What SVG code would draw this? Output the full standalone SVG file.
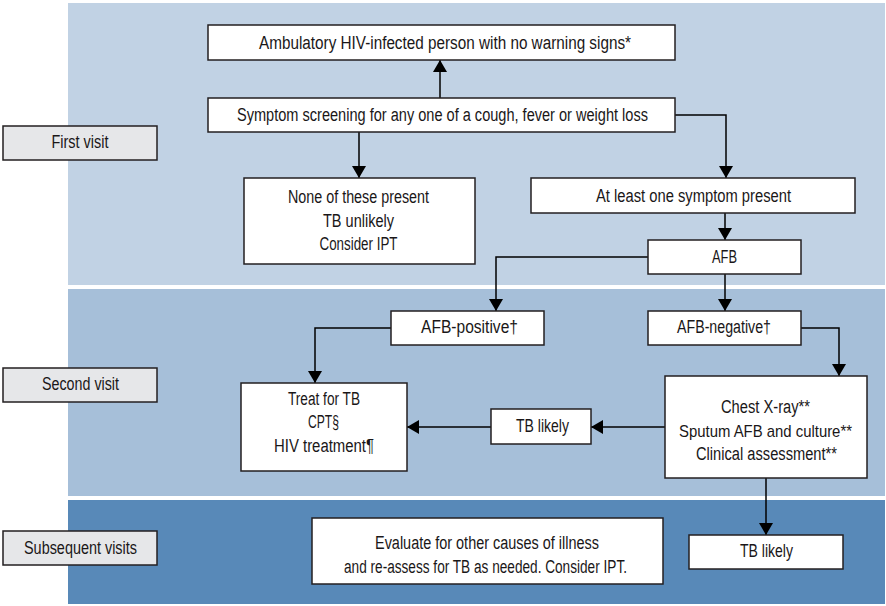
<svg xmlns="http://www.w3.org/2000/svg" width="886" height="606" viewBox="0 0 886 606">
<defs>
<style>
.node{fill:#ffffff;stroke:#231f20;stroke-width:1.5}
.lab{fill:#e6e7e9;stroke:#231f20;stroke-width:1.5}
text{font-family:"Liberation Sans Narrow","Liberation Sans",Arial,sans-serif;font-size:18px;fill:#1a1718;text-anchor:middle}
.conn{fill:none;stroke:#000000;stroke-width:1.5}
</style>
<marker id="arr" markerUnits="userSpaceOnUse" markerWidth="14" markerHeight="14" refX="12" refY="7" orient="auto">
<path d="M0,0 L12,7 L0,14 z" fill="#000000"/>
</marker>
</defs>
<rect width="886" height="606" fill="#ffffff"/>
<g id="bands">
<rect x="68" y="3" width="817" height="282" fill="#c1d2e4"/>
<rect x="68" y="289" width="817" height="207" fill="#a6bfd9"/>
<rect x="68" y="500" width="817" height="104" fill="#5889b8"/>
</g>
<g id="label-first"><rect class="lab" x="3" y="126" width="154" height="34"/><text x="80" y="148" textLength="57" lengthAdjust="spacingAndGlyphs">First visit</text></g>
<g id="label-second"><rect class="lab" x="3" y="368" width="154" height="34"/><text x="80.5" y="390" textLength="77" lengthAdjust="spacingAndGlyphs">Second visit</text></g>
<g id="label-subsequent"><rect class="lab" x="3" y="531" width="154" height="34"/><text x="80.5" y="554" textLength="113" lengthAdjust="spacingAndGlyphs">Subsequent visits</text></g>

<g id="connectors">
<path class="conn" d="M440,98 V60" marker-end="url(#arr)"/>
<path class="conn" d="M675,115 H726 V178" marker-end="url(#arr)"/>
<path class="conn" d="M359,132 V178" marker-end="url(#arr)"/>
<path class="conn" d="M725,213 V240" marker-end="url(#arr)"/>
<path class="conn" d="M648,257 H496 V311" marker-end="url(#arr)"/>
<path class="conn" d="M725,274 V311" marker-end="url(#arr)"/>
<path class="conn" d="M801,328 H839 V376" marker-end="url(#arr)"/>
<path class="conn" d="M391,328 H315 V383" marker-end="url(#arr)"/>
<path class="conn" d="M665,427 H591" marker-end="url(#arr)"/>
<path class="conn" d="M491,427 H407" marker-end="url(#arr)"/>
<path class="conn" d="M766,478 V535" marker-end="url(#arr)"/>
</g>

<g id="ambulatory"><rect class="node" x="208" y="25" width="467" height="35"/><text x="445" y="49" textLength="372" lengthAdjust="spacingAndGlyphs">Ambulatory HIV-infected person with no warning signs*</text></g>
<g id="screening"><rect class="node" x="208" y="98" width="467" height="34"/><text x="442.5" y="121" textLength="411" lengthAdjust="spacingAndGlyphs">Symptom screening for any one of a cough, fever or weight loss</text></g>
<g id="none-present"><rect class="node" x="244" y="178" width="231" height="86"/>
<text x="358.5" y="203" textLength="141" lengthAdjust="spacingAndGlyphs">None of these present</text>
<text x="358.5" y="227" textLength="71" lengthAdjust="spacingAndGlyphs">TB unlikely</text>
<text x="358.5" y="250" textLength="78" lengthAdjust="spacingAndGlyphs">Consider IPT</text></g>
<g id="at-least-one"><rect class="node" x="531" y="178" width="324" height="35"/><text x="693.5" y="202" textLength="195" lengthAdjust="spacingAndGlyphs">At least one symptom present</text></g>
<g id="afb"><rect class="node" x="648" y="240" width="153" height="34"/><text x="724.5" y="263" textLength="25" lengthAdjust="spacingAndGlyphs">AFB</text></g>
<g id="afb-positive"><rect class="node" x="391" y="311" width="153" height="34"/><text x="469.5" y="333" textLength="97" lengthAdjust="spacingAndGlyphs">AFB-positive†</text></g>
<g id="afb-negative"><rect class="node" x="648" y="311" width="153" height="34"/><text x="724" y="333" textLength="94" lengthAdjust="spacingAndGlyphs">AFB-negative†</text></g>
<g id="chest"><rect class="node" x="665" y="376" width="202" height="102"/>
<text x="765.5" y="413" textLength="89" lengthAdjust="spacingAndGlyphs">Chest X-ray**</text>
<text x="765.5" y="437" style="font-size:17px" textLength="173" lengthAdjust="spacingAndGlyphs">Sputum AFB and culture**</text>
<text x="766.5" y="460" textLength="141" lengthAdjust="spacingAndGlyphs">Clinical assessment**</text></g>
<g id="treat"><rect class="node" x="241" y="383" width="166" height="88"/>
<text x="324" y="405" textLength="72" lengthAdjust="spacingAndGlyphs">Treat for TB</text>
<text x="323.5" y="428" textLength="31" lengthAdjust="spacingAndGlyphs">CPT§</text>
<text x="324" y="452" textLength="100" lengthAdjust="spacingAndGlyphs">HIV treatment¶</text></g>
<g id="tb-likely-mid"><rect class="node" x="491" y="409" width="100" height="35"/><text x="542.5" y="432" textLength="53" lengthAdjust="spacingAndGlyphs">TB likely</text></g>
<g id="evaluate"><rect class="node" x="312" y="518" width="351" height="66"/>
<text x="487" y="549" textLength="224" lengthAdjust="spacingAndGlyphs">Evaluate for other causes of illness</text>
<text x="485.5" y="573" textLength="283" lengthAdjust="spacingAndGlyphs">and re-assess for TB as needed. Consider IPT.</text></g>
<g id="tb-likely-bottom"><rect class="node" x="689" y="535" width="154" height="34"/><text x="766.5" y="557" textLength="53" lengthAdjust="spacingAndGlyphs">TB likely</text></g>
</svg>
